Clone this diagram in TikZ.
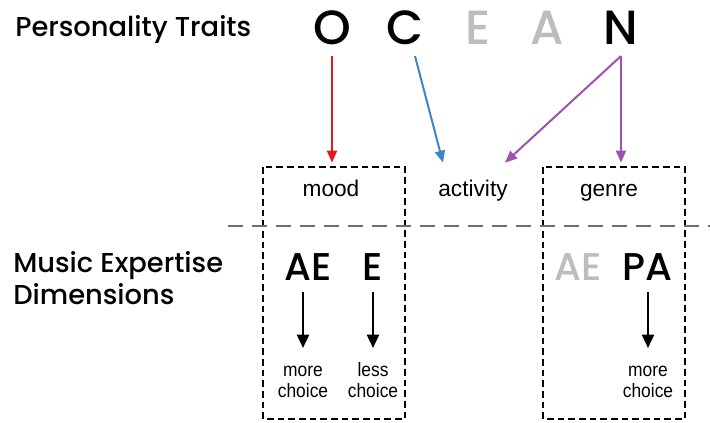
\documentclass[tikz,border=0pt]{standalone}
\usepackage{fontspec}
\setmainfont{Liberation Sans}
\newfontfamily\headfont{Poppins Medium}
\newfontfamily\narrowfont{Liberation Sans}[FakeStretch=0.9]
\usetikzlibrary{arrows.meta}
\definecolor{oceanred}{HTML}{E41A1C}
\definecolor{oceanblue}{HTML}{3F86C0}
\definecolor{oceanpurple}{HTML}{A050B0}
\definecolor{fadegray}{HTML}{BDBDBD}
\definecolor{sepgray}{HTML}{6E6E6E}
\begin{document}
\begin{tikzpicture}[
        x=0.75pt, y=-0.75pt,
        heading/.style={font=\headfont\fontsize{20.5}{23.5}\selectfont, align=left, inner sep=0pt},
        trait/.style={font=\headfont\fontsize{36}{36}\selectfont, inner sep=0pt, text depth=0pt, outer ysep=9pt},
        dim/.style={font=\headfont\fontsize{29}{29}\selectfont, inner sep=0pt, text depth=0pt, outer ysep=9pt},
        faded/.style={text=fadegray},
        context/.style={font=\fontsize{17}{20}\selectfont, inner sep=0pt, text height=13pt, text depth=4pt, outer ysep=12pt},
        choice/.style={font=\narrowfont\fontsize{14.5}{14.5}\selectfont, align=center, inner xsep=0pt, inner ysep=10.8pt},
        link/.style={-{Triangle[length=9pt,width=7.5pt]}, line width=1.5pt},
        effect/.style={-{Triangle[length=10pt,width=9pt]}, line width=1.8pt},
        box/.style={draw, dash pattern=on 5pt off 3pt, line width=0.9pt},
        divider/.style={draw=sepgray, dash pattern=on 11pt off 7pt, line width=1.5pt}
    ]
    \useasboundingbox (0,0) rectangle (710,422);

    \node[heading, anchor=base west] (traits) at (15,36) {Personality Traits};
    \node[heading, anchor=west] (expertise) at (13,278) {Music Expertise\\Dimensions};

    \node[trait, anchor=base] (O) at (332,44) {O};
    \node[trait, anchor=base] (C) at (405,44) {C};
    \node[trait, faded, anchor=base] (E) at (478,44) {E};
    \node[trait, faded, anchor=base] (A) at (547,44) {A};
    \node[trait, anchor=base] (N) at (621,44) {N};

    \node[context, anchor=base] (mood) at (331,196) {mood};
    \node[context, anchor=base] (activity) at (473,196) {activity};
    \node[context, anchor=base] (genre) at (609,196) {genre};

    \draw[box] (263,167) rectangle (405,419);
    \draw[box] (543,167) rectangle (685,419);
    \draw[divider] (228,226) -- (710,226);

    \draw[link, oceanred] (O.south) -- (O.south |- mood.north);
    \draw[link, oceanblue] ([xshift=7.5pt]C.south) -- ([xshift=-22.5pt]activity.north);
    \draw[link, oceanpurple] (N.south) -- ([xshift=24pt]activity.north);
    \draw[link, oceanpurple] (N.south) -- (N.south |- genre.north);

    \node[dim, anchor=base] (ae) at (308,280) {AE};
    \node[dim, anchor=base] (ex) at (373,280) {E};
    \node[dim, faded, anchor=base] (aefaded) at (578,280) {AE};
    \node[dim, anchor=base] (pa) at (647,280) {PA};

    \node[choice, anchor=north] (morea) at (303,348) {\strut more\\choice};
    \node[choice, anchor=north] (less) at (373,348) {\strut less\\choice};
    \node[choice, anchor=north] (moreb) at (648,348) {\strut more\\choice};

    \draw[effect] (ae.south -| morea) -- (morea);
    \draw[effect] (ex.south -| less) -- (less);
    \draw[effect] (pa.south -| moreb) -- (moreb);
\end{tikzpicture}
\end{document}
